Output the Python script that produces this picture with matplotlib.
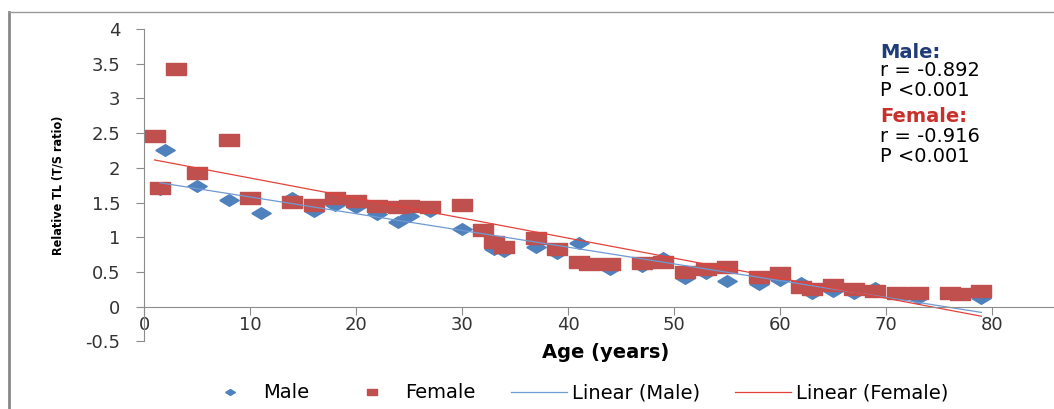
import numpy as np
import matplotlib.pyplot as plt
from matplotlib.lines import Line2D

# data
male_age = [1.5, 2, 5, 8, 11, 14, 16, 18, 20, 22, 24, 25, 27, 30, 33, 34, 37, 39, 41, 44,
            47, 49, 51, 53, 55, 58, 60, 62, 63, 65, 67, 69, 71, 73, 76, 79]
male_tl = [1.70, 2.26, 1.74, 1.53, 1.35, 1.57, 1.38, 1.46, 1.43, 1.33, 1.22, 1.30, 1.38, 1.12,
           0.83, 0.80, 0.86, 0.77, 0.92, 0.55, 0.58, 0.70, 0.42, 0.48, 0.37, 0.33, 0.39, 0.34,
           0.20, 0.22, 0.20, 0.27, 0.18, 0.13, 0.20, 0.13]
female_age = [1, 1.5, 3, 5, 8, 10, 14, 16, 18, 20, 22, 24, 25, 27, 30, 32, 33, 34, 37, 39,
              41, 42, 44, 47, 49, 51, 53, 55, 58, 60, 62, 63, 65, 67, 69, 71, 73, 76, 77, 79]
female_tl = [2.46, 1.71, 3.42, 1.92, 2.40, 1.57, 1.51, 1.46, 1.56, 1.52, 1.45, 1.43, 1.45, 1.43,
             1.46, 1.11, 0.93, 0.86, 0.99, 0.83, 0.65, 0.62, 0.62, 0.63, 0.65, 0.50, 0.54, 0.57,
             0.43, 0.48, 0.29, 0.25, 0.31, 0.25, 0.23, 0.20, 0.20, 0.19, 0.18, 0.22]

blue = '#4F81BD'
red = '#C0504D'
diamond = [(-1, 0), (0, 0.6), (1, 0), (0, -0.6), (-1, 0)]
square = [(-1, -0.62), (1, -0.62), (1, 0.62), (-1, 0.62), (-1, -0.62)]

fig = plt.figure(figsize=(10.54, 4.09), dpi=100)
ax = fig.add_axes([144/1054, 1-341.4/409, 1-144/1054, (341.4-29)/409])

m, = ax.plot(male_age, male_tl, ls='none', marker=diamond, ms=14, color=blue, mec=blue, label='Male')
f, = ax.plot(female_age, female_tl, ls='none', marker=square, ms=14, color=red, mec=red, label='Female')

# linear trendlines
xm = np.array([min(male_age), max(male_age)])
pm = np.polyfit(male_age, male_tl, 1)
lm, = ax.plot(xm, np.polyval(pm, xm), color='#6F9AD3', lw=0.9, label='Linear (Male)')
xf = np.array([min(female_age), max(female_age)])
pf = np.polyfit(female_age, female_tl, 1)
lf, = ax.plot(xf, np.polyval(pf, xf), color='#E3423B', lw=0.9, label='Linear (Female)')

ax.set_xlim(0, 85.85)
ax.set_ylim(-0.5, 4)
ax.set_xticks(range(0, 90, 10))
ax.set_yticks(np.arange(-0.5, 4.01, 0.5))
ax.set_yticklabels(['-0.5', '0', '0.5', '1', '1.5', '2', '2.5', '3', '3.5', '4'])
ax.spines['bottom'].set_position(('data', 0))
for s in ['top', 'right']:
    ax.spines[s].set_visible(False)
for s in ['left', 'bottom']:
    ax.spines[s].set_color('#8C8C8C')
ax.tick_params(colors='#8C8C8C', labelcolor='#333333', labelsize=13, length=6)
ax.tick_params(axis='x', pad=1)
ax.tick_params(axis='y', pad=11)

fig.text(58/1054, 1-185/409, 'Relative TL (T/S ratio)', rotation=90, ha='center', va='center',
         fontsize=9, fontweight='bold', fontstretch='condensed')
fig.text(606/1054, 1-353/409, 'Age (years)', ha='center', va='center', fontsize=14, fontweight='bold')

tx = 880/1054
fig.text(tx, 1-52/409, 'Male:', color='#1F3C79', fontsize=14, fontweight='bold', va='center')
fig.text(tx, 1-71/409, 'r = -0.892', fontsize=14, va='center')
fig.text(tx, 1-91/409, 'P <0.001', fontsize=14, va='center')
fig.text(tx, 1-117/409, 'Female:', color='#C8302B', fontsize=14, fontweight='bold', va='center')
fig.text(tx, 1-136/409, 'r = -0.916', fontsize=14, va='center')
fig.text(tx, 1-156/409, 'P <0.001', fontsize=14, va='center')

fig.legend(handles=[m, f, lm, lf], loc='center', bbox_to_anchor=(575/1054, 1-393/409), ncol=4,
           frameon=False, fontsize=14, markerscale=0.5, handlelength=2.9, columnspacing=1.8,
           handletextpad=0.25, borderpad=0, borderaxespad=0)

# outer chart frame (cropped on the right and bottom)
fig.add_artist(Line2D([8.5/1054, 8.5/1054], [0, 1-12/409], transform=fig.transFigure, color='#888888', lw=2))
fig.add_artist(Line2D([8.5/1054, 1], [1-12/409, 1-12/409], transform=fig.transFigure, color='#999999', lw=1))

fig.savefig('out.png', dpi=100)
